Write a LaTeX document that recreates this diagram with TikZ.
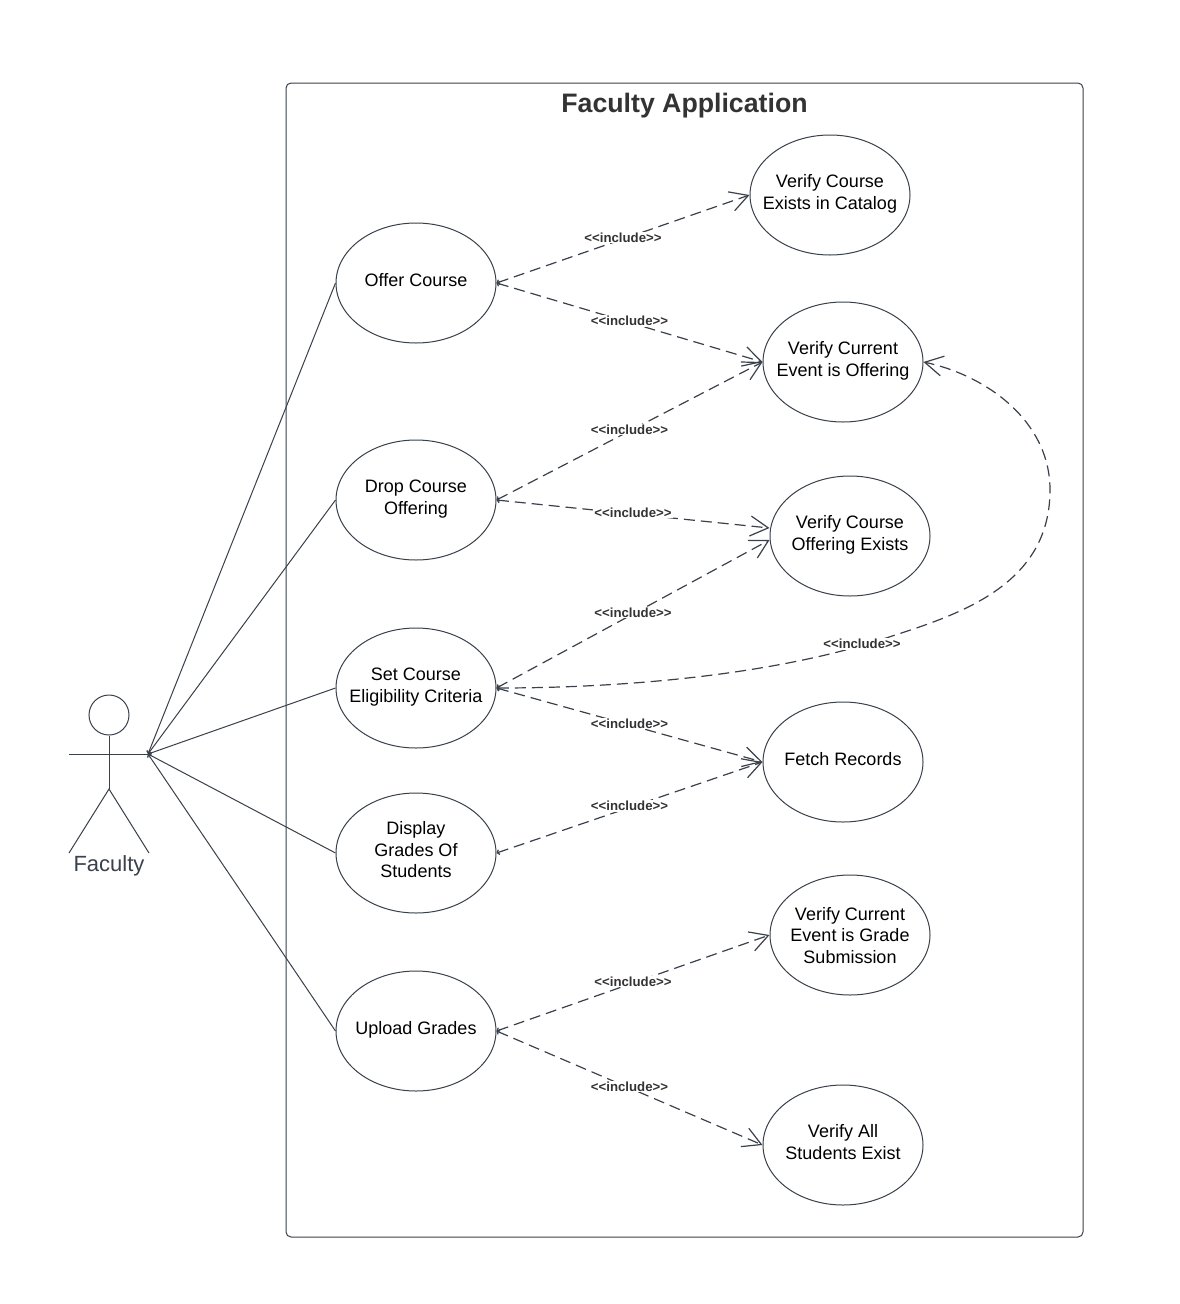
\documentclass[tikz,border=0pt]{standalone}
\usepackage{fontspec}
\setmainfont{Liberation Sans}
\usetikzlibrary{arrows.meta,shapes.geometric}
\definecolor{umlline}{HTML}{3A414A}
\definecolor{umltext}{HTML}{333333}
\newcommand{\casetxt}[2][2pt]{\makebox[0pt]{\begin{tabular}{@{}c@{}}#2\\[#1]\end{tabular}}}
\tikzset{
  x=1pt,y=-1pt,
  usecase/.style={ellipse,draw=umlline,line width=1pt,minimum width=160pt,minimum height=120pt,inner sep=0pt,text=black,font=\fontsize{18}{21.5}\selectfont},
  frame/.style={draw=umlline,line width=1pt,rounded corners=5pt},
  assoc/.style={draw=umlline,line width=1pt},
  incl/.style={draw=umlline,line width=1.2pt,dash pattern=on 11pt off 6pt,{Straight Barb[length=2pt,width=5pt]}-{Straight Barb[length=18pt,width=20pt]}},
  incllabel/.style={fill=white,inner sep=1pt,yshift=1.5pt,text=umltext,font=\fontsize{13.2}{15}\selectfont\bfseries}
}
\begin{document}
\begin{tikzpicture}
\useasboundingbox (0,0) rectangle (1179,1304);
\fill[white] (0,0) rectangle (1179,1304);
% system frame
\node[inner sep=0pt] (sysA) at (286,83) {};
\node[inner sep=0pt] (sysB) at (1083,1237) {};
\draw[frame] (sysA) rectangle (sysB);
\node[text=umltext,font=\fontsize{26.7}{32}\selectfont\bfseries] (title) at (684.5,106) {Faculty Application};
% actor
\node[circle,draw=umlline,line width=1pt,minimum size=40pt,inner sep=0pt] (head) at (109,715) {};
\coordinate (hip) at (109,789);
\coordinate (armL) at (69,754);
\coordinate (hand) at (148,754);
\coordinate (legL) at (69,853);
\coordinate (legR) at (149,853);
\draw[assoc] (head.south) -- (hip);
\draw[assoc] (armL) -- (hand);
\draw[assoc] (legL) -- (hip) -- (legR);
\node[text=umlline,font=\fontsize{22}{26}\selectfont] (actor) at (109,866) {Faculty};
% left use cases
\node[usecase] (offer) at (416,283) {\casetxt{Offer Course}};
\node[usecase] (drop) at (416,500) {\casetxt{Drop Course\\Offering}};
\node[usecase] (elig) at (416,688) {\casetxt{Set Course\\Eligibility Criteria}};
\node[usecase] (disp) at (416,853) {\casetxt{Display\\Grades Of\\Students}};
\node[usecase] (upload) at (416,1031) {\casetxt{Upload Grades}};
% right use cases
\node[usecase] (catalog) at (830,195) {\casetxt{Verify Course\\Exists in Catalog}};
\node[usecase] (event) at (843,362) {\casetxt{Verify Current\\Event is Offering}};
\node[usecase] (exists) at (850,536) {\casetxt{Verify Course\\Offering Exists}};
\node[usecase] (fetch) at (843,762) {\casetxt{Fetch Records}};
\node[usecase] (gradeev) at (850,935) {\casetxt[-5pt]{Verify Current\\Event is Grade\\Submission}};
\node[usecase] (students) at (843,1145) {\casetxt{Verify All\\Students Exist}};
% associations
\foreach \c in {offer,drop,elig,disp,upload}
  \draw[assoc,{Straight Barb[length=2pt,width=5pt]}-] (hand) -- (\c.west);
% includes
\draw[incl] (offer.east) -- node[incllabel] {<{}<include>{}>} (catalog.west);
\draw[incl] (offer.east) -- node[incllabel] {<{}<include>{}>} (event.west);
\draw[incl] (drop.east) -- node[incllabel] {<{}<include>{}>} (event.west);
\draw[incl] (drop.east) -- node[incllabel] {<{}<include>{}>} ([yshift=8pt]exists.west);
\draw[incl] (elig.east) -- node[incllabel] {<{}<include>{}>} ([yshift=-4pt]exists.west);
\draw[incl] (elig.east) -- node[incllabel] {<{}<include>{}>} (fetch.west);
\draw[incl] (disp.east) -- node[incllabel] {<{}<include>{}>} (fetch.west);
\draw[incl] (upload.east) -- node[incllabel] {<{}<include>{}>} (gradeev.west);
\draw[incl] (upload.east) -- node[incllabel] {<{}<include>{}>} (students.west);
\draw[incl] (elig.east) .. controls (640,688) and (780,672) .. (880,640)
   .. controls (950,617) and (1050,590) .. (1050,490)
   .. controls (1050,420) and (985,375) .. (event.east);
\node[incllabel,yshift=-1.5pt] (curvelab) at (862,644) {<{}<include>{}>};
\end{tikzpicture}
\end{document}
